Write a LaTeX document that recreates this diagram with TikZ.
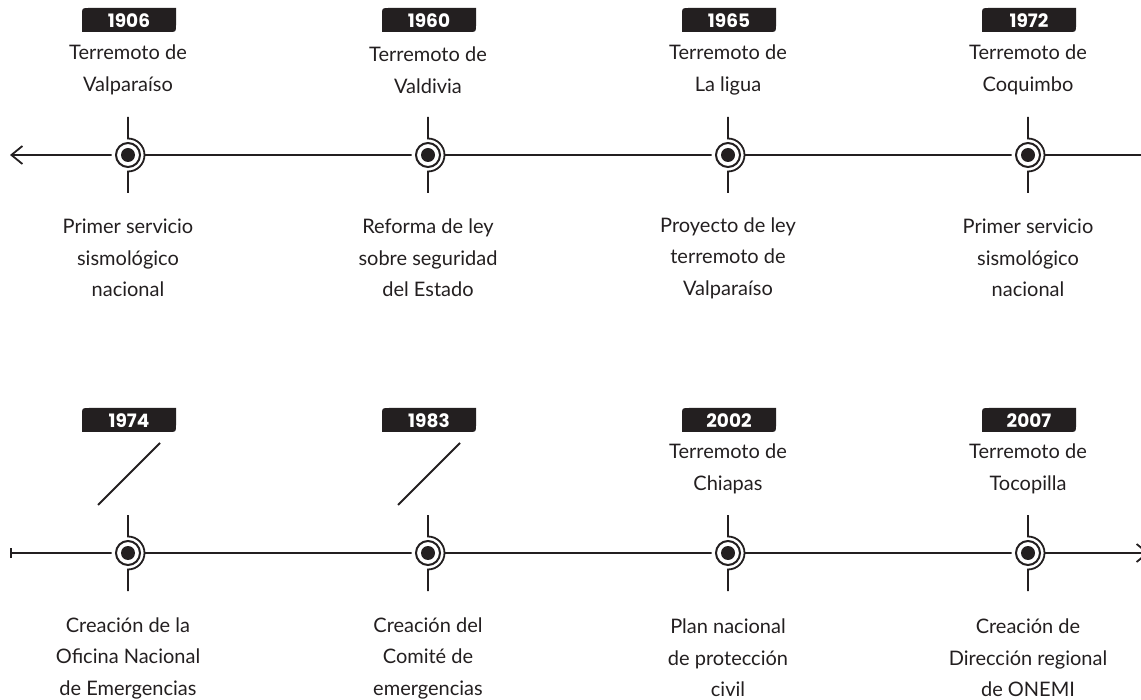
\documentclass[tikz,border=0pt]{standalone}
\usepackage{fontspec}
\setmainfont{Lato}
\newfontfamily\yearfont{Poppins}
\usetikzlibrary{arrows.meta,calc}
\definecolor{ink}{HTML}{231F20}

\tikzset{
  axis/.style={draw=ink, line width=1.8pt},
  stem/.style={draw=ink, line width=1.8pt},
  slash/.style={draw=ink, line width=1.8pt},
  caption/.style={align=center, text=ink, inner sep=0pt,
    font=\fontsize{20}{31.5}\selectfont},
  yeartxt/.style={text=white, inner sep=0pt,
    font=\yearfont\bfseries\fontsize{18.5}{20}\selectfont},
}

% event marker: dot, ring, half arc and two stems
\newcommand\eventmark[1]{%
  \fill[white] (#1) circle[radius=16.5];
  \draw[stem] ($(#1)+(0,-38)$) -- ($(#1)+(0,-16.5)$)
    arc[start angle=-90, end angle=90, radius=16.5] -- ($(#1)+(0,38)$);
  \draw[ink, line width=2pt] (#1) circle[radius=12];
  \fill[ink] (#1) circle[radius=7];
}

% year tag: dark box with two rounded corners
\newcommand\yeartag[3]{%
  \fill[ink] ($(#2)+(-47,12)$) -- ($(#2)+(-47,-5)$)
    .. controls ($(#2)+(-47,-12)$) .. ($(#2)+(-40,-12)$)
    -- ($(#2)+(47,-12)$) -- ($(#2)+(47,5)$)
    .. controls ($(#2)+(47,12)$) .. ($(#2)+(40,12)$) -- cycle;
  \node[yeartxt] (#1) at ($(#2)+(0,1)$) {#3};
}

\begin{document}
\begin{tikzpicture}[x=1pt, y=-1pt]
\useasboundingbox (0,0) rectangle (1141,700);

% ---------- upper row ----------
\coordinate (L1) at (10,155);
\coordinate (R1) at (1141,155);
\draw[axis, {Straight Barb[length=11pt,width=18pt]}-] (L1) -- (R1);

\coordinate (e1) at (128,155);
\coordinate (e2) at (428,155);
\coordinate (e3) at (728,155);
\coordinate (e4) at (1028,155);
\eventmark{e1}\eventmark{e2}\eventmark{e3}\eventmark{e4}

\yeartag{y1}{129,20}{1906}
\yeartag{y2}{429,20}{1960}
\yeartag{y3}{729,20}{1965}
\yeartag{y4}{1029,20}{1972}

\node[caption] (t1) at (128,70) {Terremoto de\\Valparaíso};
\node[caption] (t2) at (428,70) {Terremoto de\\Valdivia};
\node[caption] (t3) at (728,70) {Terremoto de\\La ligua};
\node[caption] (t4) at (1028,70) {Terremoto de\\Coquimbo};

\node[caption] (b1) at (128,258) {Primer servicio\\sismológico\\nacional};
\node[caption] (b2) at (428,258) {Reforma de ley\\sobre seguridad\\del Estado};
\node[caption] (b3) at (728,258) {Proyecto de ley\\terremoto de\\Valparaíso};
\node[caption] (b4) at (1028,258) {Primer servicio\\sismológico\\nacional};

% ---------- lower row ----------
\coordinate (L2) at (10,553);
\coordinate (R2) at (1149,553);
\draw[axis, {Bar[width=10pt]}-{Straight Barb[length=11pt,width=18pt]}] (L2) -- (R2);

\coordinate (f1) at (128,553);
\coordinate (f2) at (428,553);
\coordinate (f3) at (728,553);
\coordinate (f4) at (1028,553);
\eventmark{f1}\eventmark{f2}\eventmark{f3}\eventmark{f4}

\yeartag{z1}{129,420}{1974}
\yeartag{z2}{429,420}{1983}
\yeartag{z3}{729,420}{2002}
\yeartag{z4}{1029,420}{2007}

\coordinate (s1a) at (160,443);
\coordinate (s1b) at (98,505);
\coordinate (s2a) at (460,443);
\coordinate (s2b) at (398,505);
\draw[slash] (s1a) -- (s1b);
\draw[slash] (s2a) -- (s2b);

\node[caption] (u3) at (728,469) {Terremoto de\\Chiapas};
\node[caption] (u4) at (1028,469) {Terremoto de\\Tocopilla};

\node[caption] (d1) at (128,658) {Creación de la\\Oficina Nacional\\de Emergencias};
\node[caption] (d2) at (428,658) {Creación del\\Comité de\\emergencias};
\node[caption] (d3) at (728,658) {Plan nacional\\de protección\\civil};
\node[caption] (d4) at (1028,658) {Creación de\\Dirección regional\\de ONEMI};
\end{tikzpicture}
\end{document}
